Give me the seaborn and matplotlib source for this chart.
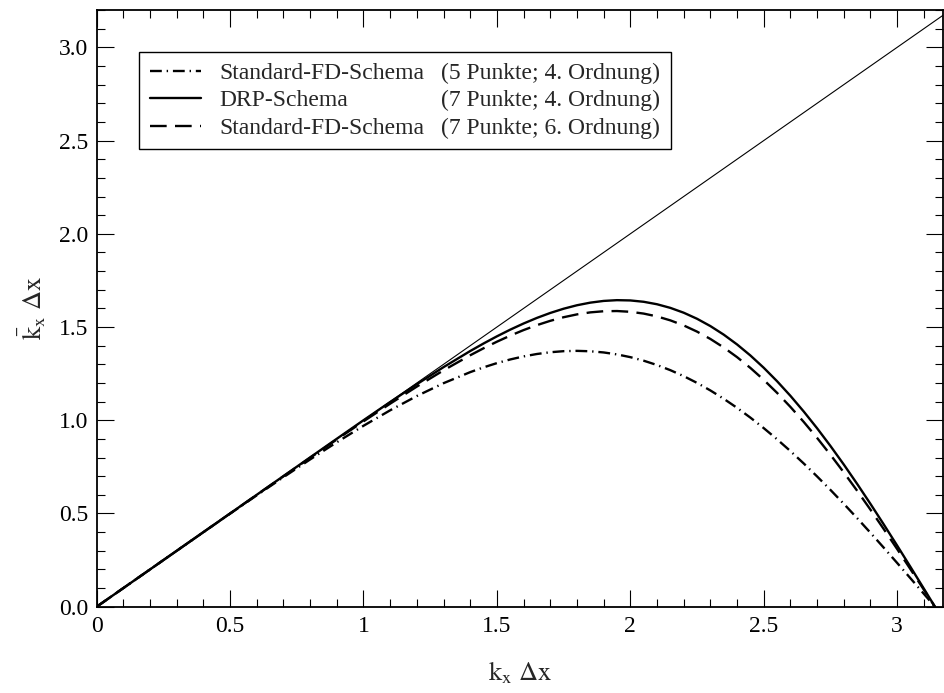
import matplotlib
matplotlib.use("Agg")
import matplotlib.pyplot as plt
import seaborn as sns
import pandas as pd
from matplotlib.lines import Line2D
from matplotlib.ticker import MultipleLocator, FuncFormatter

# ---- data (k_x dx vs modified wavenumber) ----
k = [0.0, 0.1, 0.2, 0.3, 0.4, 0.5, 0.6, 0.7, 0.8, 0.9, 1.0, 1.1, 1.2, 1.3,
     1.4, 1.45, 1.5, 1.55, 1.6, 1.65, 1.7, 1.75, 1.8, 1.85, 1.9, 1.95, 2.0,
     2.05, 2.1, 2.15, 2.2, 2.25, 2.3, 2.35, 2.4, 2.45, 2.5, 2.55, 2.6, 2.65,
     2.7, 2.75, 2.8, 2.85, 2.9, 2.95, 3.0, 3.05, 3.1, 3.1416]
fd5 = [0.0, 0.1000, 0.2000, 0.2999, 0.3997, 0.4990, 0.5975, 0.6947, 0.7899,
       0.8821, 0.9704, 1.0535, 1.1301, 1.1988, 1.2581, 1.2837, 1.3065, 1.3261,
       1.3425, 1.3554, 1.3648, 1.3705, 1.3722, 1.3700, 1.3637, 1.3532, 1.3385,
       1.3195, 1.2962, 1.2686, 1.2366, 1.2004, 1.1599, 1.1153, 1.0666, 1.0141,
       0.9578, 0.8979, 0.8346, 0.7681, 0.6986, 0.6265, 0.5519, 0.4751, 0.3964,
       0.3162, 0.2347, 0.1523, 0.0693, 0.0]
drp = [0.0, 0.1000, 0.2000, 0.3000, 0.4001, 0.5002, 0.6004, 0.7007, 0.8009,
       0.9008, 1.0001, 1.0979, 1.1933, 1.2850, 1.3713, 1.4118, 1.4501, 1.4860,
       1.5190, 1.5490, 1.5755, 1.5982, 1.6168, 1.6308, 1.6400, 1.6441, 1.6426,
       1.6354, 1.6222, 1.6027, 1.5768, 1.5443, 1.5051, 1.4592, 1.4066, 1.3474,
       1.2815, 1.2093, 1.1310, 1.0467, 0.9570, 0.8621, 0.7626, 0.6588, 0.5514,
       0.4409, 0.3279, 0.2131, 0.0970, 0.0]
fd7 = [0.0, 0.1000, 0.2000, 0.3000, 0.4000, 0.4999, 0.5998, 0.6995, 0.7987,
       0.8971, 0.9941, 1.0890, 1.1807, 1.2678, 1.3486, 1.3861, 1.4213, 1.4539,
       1.4837, 1.5102, 1.5333, 1.5526, 1.5678, 1.5786, 1.5847, 1.5858, 1.5817,
       1.5721, 1.5569, 1.5357, 1.5086, 1.4754, 1.4360, 1.3903, 1.3385, 1.2806,
       1.2167, 1.1469, 1.0716, 0.9909, 0.9052, 0.8149, 0.7204, 0.6220, 0.5204,
       0.4159, 0.3092, 0.2009, 0.0915, 0.0]
exact_x = [0.0, 3.2]
exact_y = [0.0, 3.2]

names = ["Standard-FD-Schema", "DRP-Schema", "Standard-FD-Schema"]
details = ["(5 Punkte; 4. Ordnung)", "(7 Punkte; 4. Ordnung)",
           "(7 Punkte; 6. Ordnung)"]
x_label = r"$\mathrm{k_x\ \Delta x}$"
y_label = r"$\bar{\mathrm{k}}_{\mathrm{x}}\ \mathrm{\Delta x}$"

sns.set_style("ticks")
plt.rcParams.update({
    "font.family": ["Liberation Serif", "DejaVu Serif"],
    "mathtext.fontset": "stix",
    "lines.scale_dashes": False,
    "xtick.direction": "in",
    "ytick.direction": "in",
    "xtick.top": True,
    "ytick.right": True,
    "axes.edgecolor": "black",
    "xtick.color": "black",
    "ytick.color": "black",
})

fig = plt.figure(figsize=(9.44, 6.93), dpi=100)
ax = fig.add_axes([0.1024, 0.1245, 0.8966, 0.861])

sns.lineplot(x=exact_x, y=exact_y, ax=ax, color="black", linewidth=0.8,
             estimator=None, sort=False)
series = [(fd5, [8.5, 3.5, 1.0, 3.5]), (drp, None), (fd7, [12.0, 6.0])]
handles = []
for vals, dash in series:
    df = pd.DataFrame({"k": k, "v": vals})
    sns.lineplot(data=df, x="k", y="v", ax=ax, color="black", linewidth=1.7,
                 estimator=None, sort=False)
    ln = ax.lines[-1]
    if dash is not None:
        ln.set_dashes(dash)
    handles.append(ln)

ax.set_xlim(0, 3.172)
ax.set_ylim(0, 3.2)
ax.xaxis.set_major_locator(MultipleLocator(0.5))
ax.xaxis.set_minor_locator(MultipleLocator(0.1))
ax.yaxis.set_major_locator(MultipleLocator(0.5))
ax.yaxis.set_minor_locator(MultipleLocator(0.1))
ax.xaxis.set_major_formatter(FuncFormatter(lambda v, p: f"{v:g}"))
ax.yaxis.set_major_formatter(FuncFormatter(lambda v, p: f"{v:.1f}"))
ax.tick_params(which="major", length=12, width=0.8, labelsize=17)
ax.tick_params(which="minor", length=6, width=0.8)
ax.tick_params(axis="x", which="major", pad=7)
ax.tick_params(axis="y", which="major", pad=6)
for s in ax.spines.values():
    s.set_linewidth(1.3)
    s.set_visible(True)

ax.set_xlabel(x_label, fontsize=19, labelpad=16)
ax.set_ylabel(y_label, fontsize=19, labelpad=8)

blank = [Line2D([], [], linestyle="none") for _ in range(3)]
leg = ax.legend(handles + blank, names + details, ncol=2, loc="upper left",
                bbox_to_anchor=(0.05, 0.93), borderaxespad=0, fontsize=17,
                handlelength=2.16, handletextpad=0.8, columnspacing=-2.24,
                frameon=True, fancybox=False, edgecolor="black",
                framealpha=1, labelspacing=0.25, borderpad=0.45)
leg.get_frame().set_linewidth(1.0)

fig.savefig("out.png", dpi=100)
